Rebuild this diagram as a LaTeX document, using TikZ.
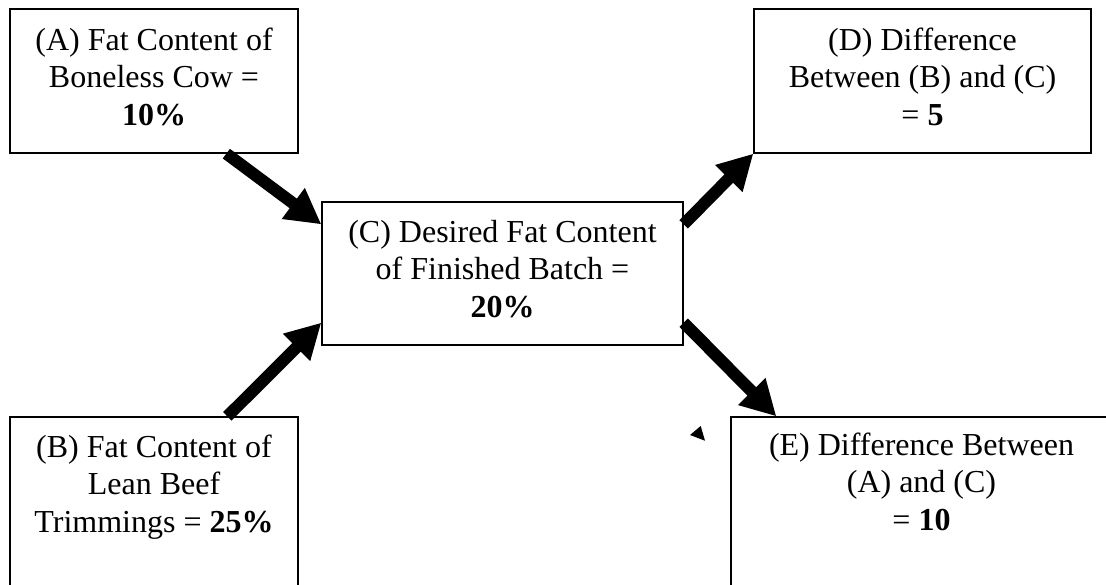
\documentclass[tikz,border=0pt]{standalone}
\usepackage{fontspec}
\setmainfont{Liberation Serif}
\usetikzlibrary{arrows.meta,calc}
\begin{document}
\begin{tikzpicture}[x=1pt,y=-1pt,
  box/.style={draw,line width=1.3pt,rectangle,inner sep=0pt},
  txt/.style={font=\fontsize{32}{37.5}\selectfont,align=center,anchor=base,inner sep=0pt},
  bigarrow/.style={line width=12pt,-{Triangle[length=35pt,width=36pt]}}]
\useasboundingbox (0,0) rectangle (1106,584);
\clip (0,0) rectangle (1106,584);
% boxes
\node[box,minimum width=288pt,minimum height=144pt] (A) at (154,81) {};
\node[box,minimum width=361pt,minimum height=143pt] (C) at (502.5,273.5) {};
\node[box,minimum width=337pt,minimum height=144pt] (D) at (922.5,81) {};
\node[box,minimum width=288pt,minimum height=203pt] (B) at (154,518.5) {};
\node[box,minimum width=381pt,minimum height=203pt] (E) at (921.5,518.5) {};
% texts (anchored at the baseline of the last line)
\node[txt] (tA) at (154,125) {(A) Fat Content of\\Boneless Cow =\\\textbf{10\%}};
\node[txt] (tC) at (502.5,317) {(C) Desired Fat Content\\of Finished Batch =\\\textbf{20\%}};
\node[txt] (tD) at (922.5,125) {(D) Difference\\Between (B) and (C)\\= \textbf{5}};
\node[txt] (tB) at (154,532) {(B) Fat Content of\\Lean Beef\\Trimmings = \textbf{25\%}};
\node[txt] (tE) at (921.5,530) {(E) Difference Between\\(A) and (C)\\= \textbf{10}};
% arrows
\draw[bigarrow] ($(A.south west)+(217,0)$) -- ($(C.north west)+(0,23)$);
\draw[bigarrow] ($(B.north west)+(218,0)$) -- ($(C.south west)+(0,-23)$);
\draw[bigarrow] ($(C.north east)+(0,23)$) -- (D.south west);
\draw[bigarrow] ($(C.south east)+(0,-23)$) -- ($(E.north west)+(46,0)$);
% stray mark
\fill (690,435) -- (700.7,426) -- (705,440.7) -- cycle;
\end{tikzpicture}
\end{document}
